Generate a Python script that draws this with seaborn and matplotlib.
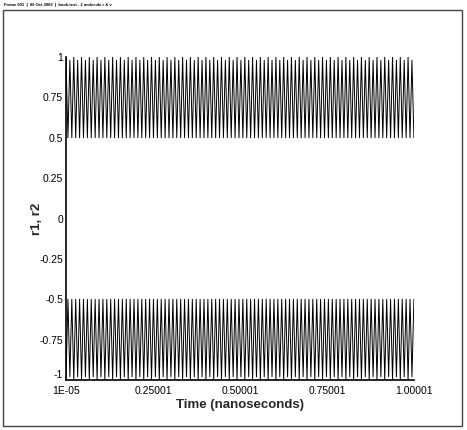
import numpy as np
import pandas as pd
import matplotlib
matplotlib.use("Agg")
import matplotlib.pyplot as plt
import matplotlib.ticker as mticker
from matplotlib.patches import Rectangle
import seaborn as sns

# one oscillation cycle, repeated over the time span
CYCLE_R1 = [1.0, 0.5, 0.98, 0.5]
CYCLE_R2 = [-1.0, -0.5, -0.98, -0.5]
N_CYCLES = 45
T_START, T_END = 1e-05, 1.00001

X_TICKS = [1e-05, 0.25001, 0.50001, 0.75001, 1.00001]
X_TICK_LABELS = ["1E-05", "0.25001", "0.50001", "0.75001", "1.00001"]
Y_TICKS = [-1, -0.75, -0.5, -0.25, 0, 0.25, 0.5, 0.75, 1]
Y_TICK_LABELS = ["-1", "-0.75", "-0.5", "-0.25", "0", "0.25", "0.5", "0.75", "1"]
HEADER = "Frame 001  |  06 Oct 2003  |  book.test - 2 molecule r & v"

r1 = np.tile(CYCLE_R1, N_CYCLES)
r2 = np.tile(CYCLE_R2, N_CYCLES)
t = np.linspace(T_START, T_END, len(r1))
df = pd.DataFrame({"t": np.concatenate([t, t]),
                   "value": np.concatenate([r1, r2]),
                   "series": ["r1"] * len(t) + ["r2"] * len(t)})

sns.set_style("white")
plt.rcParams["font.family"] = ["Liberation Sans", "DejaVu Sans"]

fig = plt.figure(figsize=(4.67, 4.30), dpi=100)
ax = fig.add_axes([0.1413, 0.1163, 0.745, 0.751])

sns.lineplot(data=df, x="t", y="value", units="series", estimator=None,
             color="black", linewidth=0.7, ax=ax, legend=False)

ax.set_xlim(T_START, T_END)
ax.set_ylim(-1, 1)
ax.set_xticks(X_TICKS)
ax.set_xticklabels(X_TICK_LABELS)
ax.set_yticks(Y_TICKS)
ax.set_yticklabels(Y_TICK_LABELS)
ax.xaxis.set_minor_locator(mticker.FixedLocator(np.arange(0.05001, 1.0, 0.05)))
ax.yaxis.set_minor_locator(mticker.FixedLocator(np.arange(-0.95, 1.0, 0.05)))
ax.tick_params(which="major", direction="in", length=6, width=1.0,
               labelsize=7.5, pad=2, colors="black")
ax.tick_params(which="minor", direction="in", length=3, width=0.8)
ax.tick_params(axis="x", pad=4)
# the "-1" label sits a little higher, as in the reference
ax.get_yticklabels()[0].set_verticalalignment("bottom")
ax.set_xlabel("Time (nanoseconds)", fontsize=9.5, fontweight="bold")
ax.set_ylabel("r1, r2", fontsize=9.5, fontweight="bold")
# labels sit close to the axes, next to the short "0" tick label
ax.xaxis.set_label_coords(0.5, -0.078)
ax.yaxis.set_label_coords(-0.083, 0.5)
ax.xaxis.label.set_verticalalignment("center")
ax.yaxis.label.set_verticalalignment("center")

for side in ["top", "right"]:
    ax.spines[side].set_visible(False)
for side in ["left", "bottom"]:
    ax.spines[side].set_color("black")
    ax.spines[side].set_linewidth(1.2)

# outer frame and header
fig.patches.append(Rectangle((3 / 467, 4 / 430), 459 / 467, 416 / 430,
                             transform=fig.transFigure, fill=False,
                             edgecolor="#444444", linewidth=1.0))
fig.text(4 / 467, 1 - 5 / 430, HEADER, fontsize=3, fontweight="bold",
         va="center", ha="left", color="black")

fig.savefig("out.png", dpi=100)
